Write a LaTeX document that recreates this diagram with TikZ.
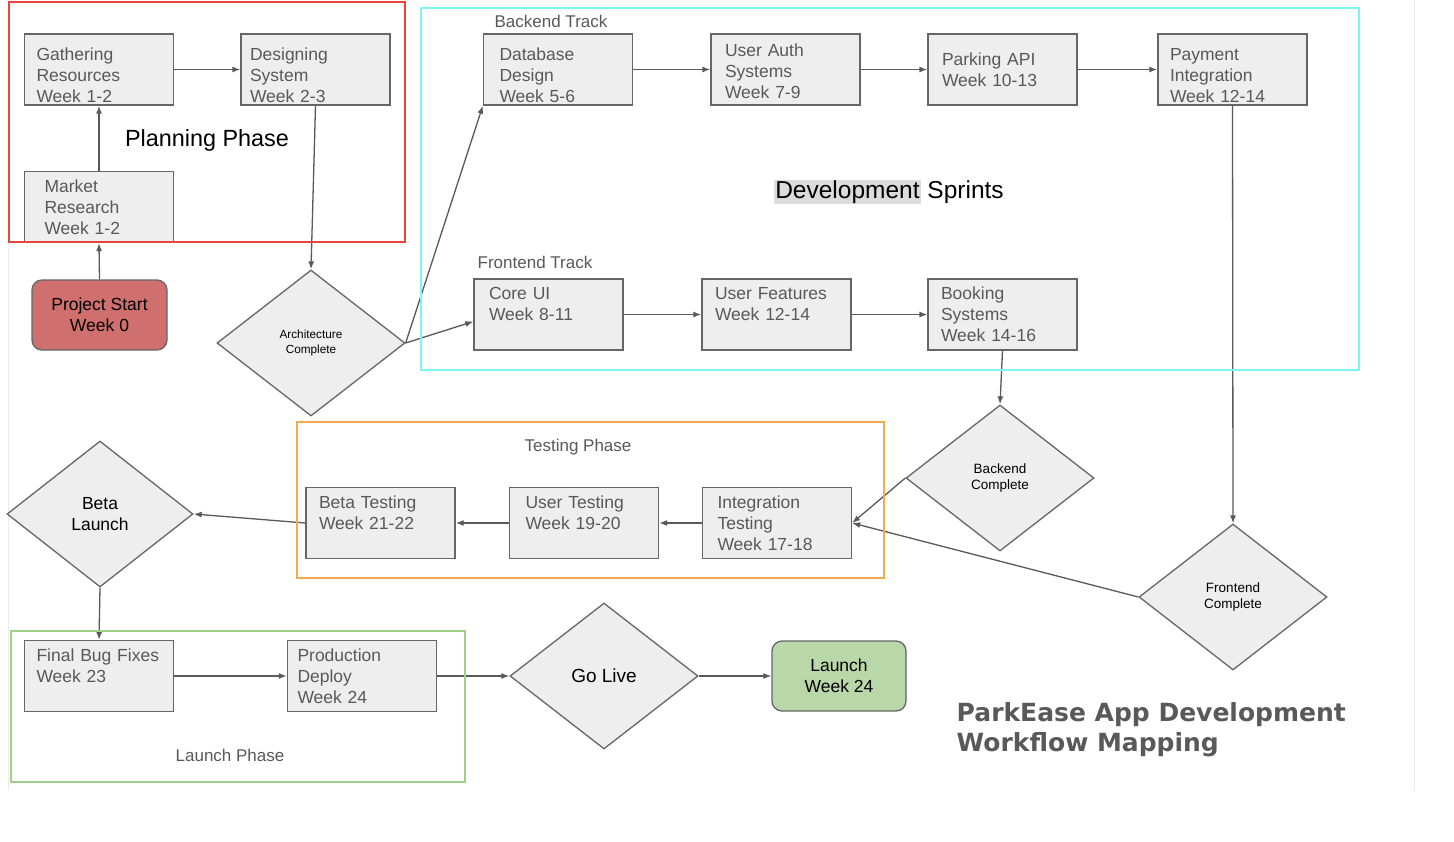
\documentclass[tikz,border=0pt]{standalone}
\usepackage{fontspec}
\setmainfont{Liberation Sans}
\newfontfamily\titlefont{DejaVu Sans}
\usepackage{xcolor}
\usepackage{tikz}
\usetikzlibrary{shapes.geometric, arrows.meta, positioning}

\definecolor{boxfill}{HTML}{EEEEEE}
\definecolor{boxline}{HTML}{666666}
\definecolor{arrowgrey}{HTML}{595959}
\definecolor{textgrey}{HTML}{595959}
\definecolor{startred}{HTML}{D0706E}
\definecolor{launchgreen}{HTML}{B9D7A8}
\definecolor{planred}{HTML}{E8453C}
\definecolor{devcyan}{HTML}{7DF5F5}
\definecolor{testorange}{HTML}{F5A94F}
\definecolor{launchframe}{HTML}{9FCF88}
\definecolor{devhl}{HTML}{DCDCDC}
\definecolor{pageedge}{HTML}{EBEBEB}

\begin{document}
\begin{tikzpicture}[x=1pt, y=-1pt, thick,
    task/.style={draw=boxline, fill=boxfill, line width=1.3pt, rectangle, minimum height=71pt,
        text width=125pt, inner xsep=12pt, inner ysep=0pt, align=left, text=textgrey,
        font=\fontsize{17.5}{21}\selectfont},
    lowtext/.style={execute at begin node={\rule{0pt}{#1}}},
    lowtext/.default=25pt,
    gate/.style={draw=boxline, fill=boxfill, line width=1.3pt, diamond, minimum width=188pt,
        minimum height=146pt, inner sep=0pt, align=center, font=\fontsize{13.5}{16}\selectfont},
    milestone/.style={draw=boxline, line width=1.3pt, rounded corners=10pt, minimum width=135pt,
        minimum height=70pt, align=center, font=\fontsize{17.5}{21}\selectfont},
    flow/.style={draw=arrowgrey, line width=1.3pt, -{Latex[length=8pt,width=6pt]}},
    tag/.style={text=textgrey, font=\fontsize{17}{21}\selectfont},
    frame/.style={line width=1.3pt}]

    \useasboundingbox (0,0) rectangle (1454,841);
    \fill[white] (0,0) rectangle (1454,841);
    \draw[pageedge, line width=1pt] (8,0) -- (8,790);
    \draw[pageedge, line width=1pt] (1414,0) -- (1414,790);

    % Planning phase
    \node[task, lowtext] (Gather) at (99,69.5) {Gathering\\Resources\\Week 1-2};
    \node[task, lowtext, inner xsep=9pt, text width=131pt] (Design) at (315.5,69.5) {Designing\\System\\Week 2-3};
    \node[task, inner xsep=20pt, text width=109pt] (Market) at (99,207) {Market\\Research\\Week 1-2};
    \node[milestone, fill=startred] (Start) at (99.5,315) {Project Start\\Week 0};
    \node[gate, font=\fontsize{11.8}{15}\selectfont] (Arch) at (311,343) {Architecture\\Complete};
    \node[font=\fontsize{23.4}{28}\selectfont] (PlanLabel) at (207,140) {Planning Phase};

    \draw[flow] (Start.north) -- (Market.south);
    \draw[flow] (Market.north) -- (Gather.south);
    \draw[flow] (Gather.east) -- (Design.west);
    \draw[flow] (Design.south) -- (Arch.north);

    % Development sprints
    \node[tag] (BackLabel) at (551,21) {Backend Track};
    \node[task, lowtext, inner xsep=16pt, text width=117pt] (DB) at (558,69.5) {Database\\Design\\Week 5-6};
    \node[task, lowtext=17pt, inner xsep=14pt, text width=121pt] (Auth) at (785.5,69.5) {User Auth\\Systems\\Week 7-9};
    \node[task, inner xsep=14pt, text width=121pt] (Parking) at (1002.5,69.5) {Parking API\\Week 10-13};
    \node[task, lowtext] (Payment) at (1232.5,69.5) {Payment\\Integration\\Week 12-14};
    \node[font=\fontsize{24.5}{29}\selectfont] (DevLabel) at (889,192)
        {{\setlength{\fboxsep}{1pt}\colorbox{devhl}{Development}} Sprints};
    \node[tag] (FrontLabel) at (535,262) {Frontend Track};
    \node[task, inner xsep=15pt, text width=119pt] (CoreUI) at (548.5,314.5) {Core UI\\Week 8-11\\\mbox{}};
    \node[task, inner xsep=13pt, text width=123pt] (Features) at (776.5,314.5) {User Features\\Week 12-14\\\mbox{}};
    \node[task, inner xsep=13pt, text width=123pt] (Booking) at (1002.5,314.5) {Booking\\Systems\\Week 14-16};

    \draw[flow] (Arch.east) -- (DB.south west);
    \draw[flow] (Arch.east) -- ([yshift=-7pt]CoreUI.west);
    \draw[flow] (DB.east) -- (Auth.west);
    \draw[flow] (Auth.east) -- (Parking.west);
    \draw[flow] (Parking.east) -- (Payment.west);
    \draw[flow] (CoreUI.east) -- (Features.west);
    \draw[flow] (Features.east) -- (Booking.west);

    \node[gate] (BackDone) at (1000,478) {Backend\\Complete};
    \node[gate] (FrontDone) at (1233,597) {Frontend\\Complete};
    \draw[flow] (Booking.south) -- (BackDone.north);
    \draw[flow] (Payment.south) -- (FrontDone.north);

    % Testing phase
    \node[tag] (TestLabel) at (578,447) {Testing Phase};
    \node[task, inner xsep=15pt, text width=119pt] (Integ) at (777,523) {Integration\\Testing\\Week 17-18};
    \node[task, inner xsep=16pt, text width=117pt] (UserTest) at (584,523) {User Testing\\Week 19-20\\\mbox{}};
    \node[task, inner xsep=13pt, text width=123pt] (BetaTest) at (380.5,523) {Beta Testing\\Week 21-22\\\mbox{}};
    \node[gate, minimum width=186pt, font=\fontsize{17.5}{21}\selectfont] (Beta) at (100,514) {Beta\\Launch};

    \draw[flow] (BackDone.west) -- (Integ.east);
    \draw[flow] (FrontDone.west) -- (Integ.east);
    \draw[flow] (Integ.west) -- (UserTest.east);
    \draw[flow] (UserTest.west) -- (BetaTest.east);
    \draw[flow] (BetaTest.west) -- (Beta.east);

    % Launch phase
    \node[task] (BugFix) at (99,676) {Final Bug Fixes\\Week 23\\\mbox{}};
    \node[task, inner xsep=10pt, text width=129pt] (Deploy) at (362,676) {Production\\Deploy\\Week 24};
    \node[gate, font=\fontsize{19}{23}\selectfont] (GoLive) at (604,676) {Go Live};
    \node[milestone, fill=launchgreen, minimum width=134pt] (Launch) at (839,676) {Launch\\Week 24};
    \node[tag] (LaunchLabel) at (230,755) {Launch Phase};

    \draw[flow] (Beta.south) -- (BugFix.north);
    \draw[flow] (BugFix.east) -- (Deploy.west);
    \draw[flow] (Deploy.east) -- (GoLive.west);
    \draw[flow] (GoLive.east) -- (Launch.west);

    % phase frames
    \draw[frame, planred] (9,2) rectangle (405,242);
    \draw[frame, devcyan] (421,8) rectangle (1359,370);
    \draw[frame, testorange] (297,422) rectangle (884,578);
    \draw[frame, launchframe] (11,631) rectangle (465,782);

    \node[anchor=west, align=left, text=textgrey, font=\titlefont\bfseries\fontsize{25}{30}\selectfont]
        (Title) at (953,730) {ParkEase App Development\\Workflow Mapping};
\end{tikzpicture}
\end{document}
